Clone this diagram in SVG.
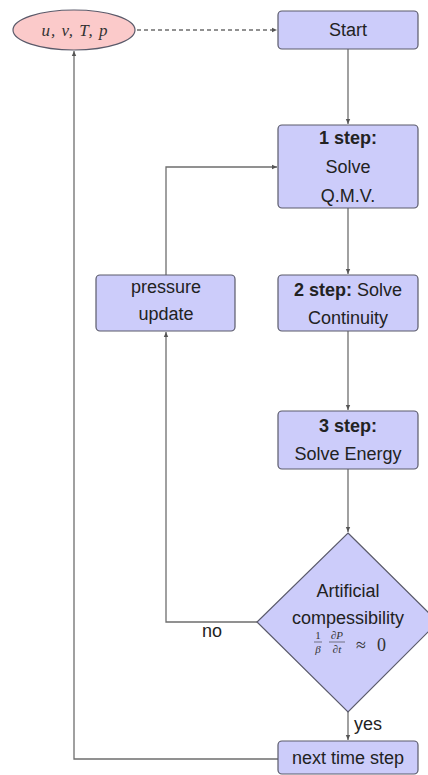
<svg xmlns="http://www.w3.org/2000/svg" width="428" height="775" viewBox="0 0 428 775">
<style>
.box{fill:#ccccfa;stroke:#5a5a6a;stroke-width:1.2}
.t{font-family:"Liberation Sans",Arial,sans-serif;font-size:18px;fill:#222;text-anchor:middle}
.b{font-weight:bold}
.m{font-family:"Liberation Serif","Times New Roman",serif;fill:#333}
.c{fill:none;stroke:#6e6e6e;stroke-width:1.3}
</style>
<defs>
<marker id="ah" markerWidth="6" markerHeight="6" refX="5" refY="3" orient="auto" markerUnits="userSpaceOnUse">
<path d="M0,0.8 L5,3 L0,5.2 Z" fill="#555"/>
</marker>
</defs>
<rect width="428" height="775" fill="#fff"/>
<g id="connectors">
<path class="c" d="M137,30 H277" stroke-dasharray="4,3" marker-end="url(#ah)"/>
<path class="c" d="M348,49 V124" marker-end="url(#ah)"/>
<path class="c" d="M348,208 V274" marker-end="url(#ah)"/>
<path class="c" d="M348,331 V410" marker-end="url(#ah)"/>
<path class="c" d="M348,469 V532" marker-end="url(#ah)"/>
<path class="c" d="M348,712 V740" marker-end="url(#ah)"/>
<path class="c" d="M257,622 H166 V332" marker-end="url(#ah)"/>
<path class="c" d="M166,275 V167 H277" marker-end="url(#ah)"/>
<path class="c" d="M278,759 H74 V51" marker-end="url(#ah)"/>
<text class="t" x="202" y="637" text-anchor="start" style="text-anchor:start">no</text>
<text class="t" x="354" y="730" style="text-anchor:start">yes</text>
</g>
<g id="vars">
<ellipse cx="74" cy="30" rx="61" ry="20" fill="#fbcaca" stroke="#5a5a6a" stroke-width="1.2"/>
<text class="m" x="75" y="36" font-size="17" font-style="italic" letter-spacing="1" text-anchor="middle">u, v, T, p</text>
</g>
<g id="start">
<rect class="box" x="278" y="11" width="140" height="38" rx="4"/>
<text class="t" x="348" y="36">Start</text>
</g>
<g id="step1">
<rect class="box" x="278" y="125" width="140" height="83" rx="4"/>
<text class="t b" x="348" y="144">1 step:</text>
<text class="t" x="348" y="173">Solve</text>
<text class="t" x="348" y="202">Q.M.V.</text>
</g>
<g id="pressure">
<rect class="box" x="96" y="275" width="139" height="56" rx="4"/>
<text class="t" x="166" y="293">pressure</text>
<text class="t" x="166" y="320">update</text>
</g>
<g id="step2">
<rect class="box" x="278" y="275" width="140" height="56" rx="4"/>
<text class="t" x="348" y="296"><tspan class="b">2 step:</tspan> Solve</text>
<text class="t" x="348" y="324">Continuity</text>
</g>
<g id="step3">
<rect class="box" x="278" y="411" width="140" height="58" rx="4"/>
<text class="t b" x="348" y="432">3 step:</text>
<text class="t" x="348" y="460">Solve Energy</text>
</g>
<g id="decision">
<polygon class="box" points="348,533 438,622 348,712 257,622"/>
<text class="t" x="348" y="597">Artificial</text>
<text class="t" x="348" y="624">compessibility</text>
<g class="m" font-size="11" text-anchor="middle">
<text x="318" y="639">1</text>
<text x="318" y="653" font-style="italic">β</text>
<text x="337" y="639"><tspan>∂</tspan><tspan font-style="italic">P</tspan></text>
<text x="337" y="653"><tspan>∂</tspan><tspan font-style="italic">t</tspan></text>
</g>
<line x1="314" y1="642" x2="322" y2="642" stroke="#333" stroke-width="0.6"/>
<line x1="329" y1="642" x2="345" y2="642" stroke="#333" stroke-width="0.6"/>
<text class="m" x="356" y="651" font-size="18">≈</text>
<text class="m" x="377" y="651" font-size="18">0</text>
</g>
<g id="next">
<rect class="box" x="278" y="741" width="140" height="33" rx="4"/>
<text class="t" x="348" y="764">next time step</text>
</g>
</svg>
